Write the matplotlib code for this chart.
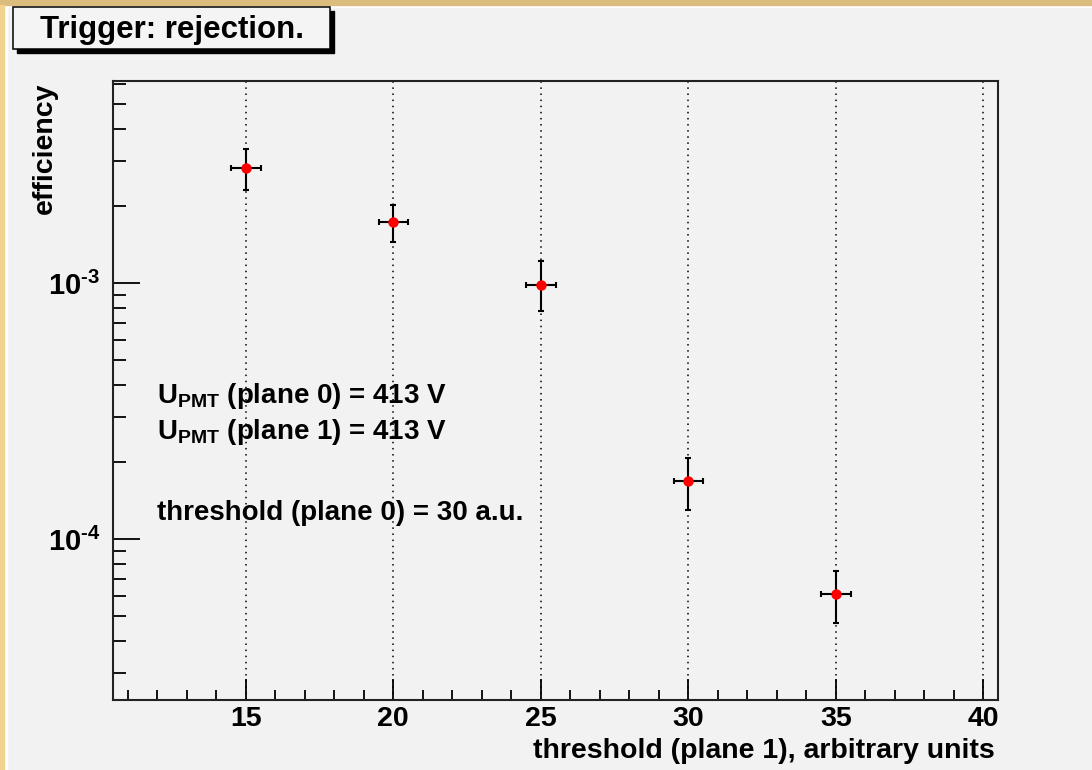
import math
import matplotlib.pyplot as plt
import matplotlib.ticker as mticker
from matplotlib.patches import Rectangle

plt.rcParams["font.family"] = ["Liberation Sans", "DejaVu Sans"]
plt.rcParams["font.weight"] = "bold"
plt.rcParams["mathtext.fontset"] = "custom"
plt.rcParams["mathtext.rm"] = "Liberation Sans:bold"
plt.rcParams["mathtext.bf"] = "Liberation Sans:bold"
plt.rcParams["mathtext.it"] = "Liberation Sans:bold"
plt.rcParams["axes.unicode_minus"] = False

# data
threshold = [15, 20, 25, 30, 35]
threshold_err = [0.5, 0.5, 0.5, 0.5, 0.5]
efficiency = [2.80e-3, 1.73e-3, 0.98e-3, 1.69e-4, 6.1e-5]
err_up = [3.33e-3, 2.02e-3, 1.22e-3, 2.08e-4, 7.5e-5]
err_lo = [2.30e-3, 1.45e-3, 0.78e-3, 1.30e-4, 4.7e-5]

title = "Trigger: rejection."
notes = [r"U$_{\mathrm{PMT}}$ (plane 0) = 413 V",
         r"U$_{\mathrm{PMT}}$ (plane 1) = 413 V",
         "threshold (plane 0) = 30 a.u."]

W, H = 1092, 770
bg = "#f2f2f2"


def fx(x):
    return x / W


def fy(y):
    return 1 - y / H


fig = plt.figure(figsize=(W / 100, H / 100), dpi=100, facecolor=bg)

# frame decoration around the canvas
fig.add_artist(Rectangle((0, fy(7)), 1, 7 / H, transform=fig.transFigure, color="white", zorder=0))
fig.add_artist(Rectangle((0, fy(5)), 1, 5 / H, transform=fig.transFigure, color="#dcbc7c", zorder=1))
fig.add_artist(Rectangle((0, 0), fx(7), fy(5), transform=fig.transFigure, color="white", zorder=0))
fig.add_artist(Rectangle((0, 0), fx(4), fy(5), transform=fig.transFigure, color="#f3d28e", zorder=1))

ax = fig.add_axes([fx(113), fy(700), fx(998) - fx(113), fy(81) - fy(700)])
ax.set_facecolor(bg)

yerr = [[e - lo for e, lo in zip(efficiency, err_lo)],
        [up - e for e, up in zip(efficiency, err_up)]]
ax.errorbar(threshold, efficiency, xerr=threshold_err, yerr=yerr, fmt="o",
            color="black", mfc="red", mec="red", ms=6.5, elinewidth=1.5,
            capsize=2.5, capthick=1.5, zorder=3)

ax.set_yscale("log")
ax.set_xlim(10.5, 40.5)
ax.set_ylim(2.35e-5, 6.15e-3)

ax.xaxis.set_major_locator(mticker.MultipleLocator(5))
ax.xaxis.set_minor_locator(mticker.MultipleLocator(1))
ax.yaxis.set_major_locator(mticker.LogLocator(base=10))
ax.yaxis.set_minor_locator(mticker.LogLocator(base=10, subs=range(2, 10)))
ax.yaxis.set_minor_formatter(mticker.NullFormatter())
ax.yaxis.set_major_formatter(mticker.FuncFormatter(
    lambda v, p: r"$10^{\text{%d}}$" % round(math.log10(v))))

ax.tick_params(axis="x", which="major", direction="in", length=15, width=1.3, labelsize=20.5, pad=4)
ax.tick_params(axis="x", which="minor", direction="in", length=7, width=1.3)
ax.tick_params(axis="y", which="major", direction="in", length=19.5, width=1.3, labelsize=21, pad=9)
ax.tick_params(axis="y", which="minor", direction="in", length=9.5, width=1.3)

ax.grid(True, axis="x", which="major", color="black", linestyle=(0, (1, 3)), linewidth=1.1)
for s in ax.spines.values():
    s.set_linewidth(1.5)
    s.set_color("#222222")

for txt, yb in zip(notes, [403, 439, 520]):
    ax.text((157 - 113) / 885, (700 - yb) / 619, txt, transform=ax.transAxes,
            fontsize=20, fontweight="bold", va="baseline", ha="left")

fig.text(fx(995), fy(758), "threshold (plane 1), arbitrary units", fontsize=20.5,
         fontweight="bold", ha="right", va="baseline")
fig.text(fx(45), fy(82), "efficiency", fontsize=20.5, fontweight="bold",
         rotation=90, ha="center", va="top")

# title box with shadow
fig.add_artist(Rectangle((fx(17), fy(53)), fx(334) - fx(17), fy(11) - fy(53),
                         transform=fig.transFigure, color="black", zorder=5))
fig.add_artist(Rectangle((fx(13), fy(49)), fx(330) - fx(13), fy(7) - fy(49),
                         transform=fig.transFigure, facecolor="#f4f4f4",
                         edgecolor="black", linewidth=1.1, zorder=6))
fig.text(fx(40), fy(38), title, fontsize=22.5, fontweight="bold",
         ha="left", va="baseline", zorder=7)

fig.savefig("out.png", dpi=100, facecolor=bg)
